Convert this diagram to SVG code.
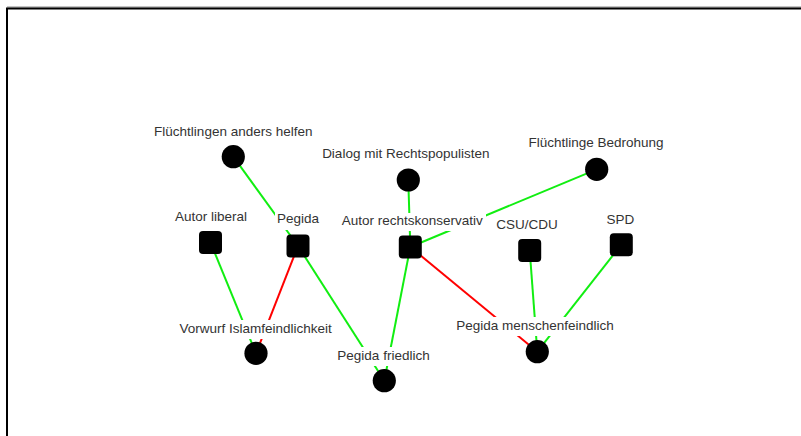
<svg xmlns="http://www.w3.org/2000/svg" width="801" height="436" viewBox="0 0 801 436">
<style>
.e{stroke-width:2;fill:none}
.g{stroke:#11ee11}
.r{stroke:#ff0000}
.lb{fill:#ffffff}
.t{font-family:"Liberation Sans",Arial,sans-serif;font-size:13.5px;fill:#333333;text-anchor:middle}
.n{fill:#000000}
</style>
<rect x="0" y="0" width="801" height="436" fill="#ffffff"/>
<g id="frame">
<line x1="7" y1="7" x2="801" y2="7" stroke="#888888" stroke-width="1"/>
<line x1="6" y1="8.5" x2="801" y2="8.5" stroke="#000000" stroke-width="2"/>
<line x1="7" y1="8" x2="7" y2="436" stroke="#000000" stroke-width="2"/>
</g>
<g id="connectors">
<line class="e g" x1="233.3" y1="156.7" x2="298" y2="246"/>
<line class="e g" x1="210.5" y1="242.5" x2="256" y2="353.3"/>
<line class="e r" x1="298" y1="246" x2="256" y2="353.3"/>
<line class="e g" x1="298" y1="246" x2="384.3" y2="380.7"/>
<line class="e g" x1="408.3" y1="180" x2="410.3" y2="247"/>
<line class="e g" x1="596.7" y1="169.3" x2="410.3" y2="247"/>
<line class="e g" x1="410.3" y1="247" x2="384.3" y2="380.7"/>
<line class="e r" x1="410.3" y1="247" x2="537.3" y2="351.7"/>
<line class="e g" x1="529.7" y1="250.5" x2="537.3" y2="351.7"/>
<line class="e g" x1="621.3" y1="244.7" x2="537.3" y2="351.7"/>
</g>
<g id="n-fluechtlingen-anders-helfen">
<rect class="lb" x="151" y="124" width="165" height="18"/>
<text class="t" x="233.3" y="136">Flüchtlingen anders helfen</text>
<circle class="n" cx="233.3" cy="156.7" r="11.6"/>
</g>
<g id="n-dialog">
<rect class="lb" x="321" y="146" width="170" height="18"/>
<text class="t" x="405.8" y="158.3">Dialog mit Rechtspopulisten</text>
<circle class="n" cx="408.3" cy="180" r="11.6"/>
</g>
<g id="n-fluechtlinge-bedrohung">
<rect class="lb" x="526" y="135" width="140" height="18"/>
<text class="t" x="596" y="147.3">Flüchtlinge Bedrohung</text>
<circle class="n" cx="596.7" cy="169.3" r="11.6"/>
</g>
<g id="n-autor-liberal">
<rect class="lb" x="173" y="209" width="77" height="18"/>
<text class="t" x="211" y="221">Autor liberal</text>
<rect class="n" x="199" y="231" width="23" height="23" rx="4"/>
</g>
<g id="n-pegida">
<rect class="lb" x="275" y="211" width="46" height="19"/>
<text class="t" x="298" y="222.7">Pegida</text>
<rect class="n" x="286.5" y="234.5" width="23" height="23" rx="4"/>
</g>
<g id="n-autor-rechtskonservativ">
<rect class="lb" x="338" y="213" width="148" height="18"/>
<text class="t" x="412.3" y="225">Autor rechtskonservativ</text>
<rect class="n" x="398.8" y="235.5" width="23" height="23" rx="4"/>
</g>
<g id="n-csu-cdu">
<rect class="lb" x="496" y="217" width="62" height="18"/>
<text class="t" x="527" y="229">CSU/CDU</text>
<rect class="n" x="518.2" y="239" width="23" height="23" rx="4"/>
</g>
<g id="n-spd">
<rect class="lb" x="605" y="212" width="31" height="18"/>
<text class="t" x="620.5" y="224.3">SPD</text>
<rect class="n" x="609.8" y="233.2" width="23" height="23" rx="4"/>
</g>
<g id="n-vorwurf">
<rect class="lb" x="178" y="320" width="155" height="19"/>
<text class="t" x="255.7" y="332.7">Vorwurf Islamfeindlichkeit</text>
<circle class="n" cx="256" cy="353.3" r="11.6"/>
</g>
<g id="n-pegida-friedlich">
<rect class="lb" x="335" y="347" width="97" height="19"/>
<text class="t" x="383.5" y="360">Pegida friedlich</text>
<circle class="n" cx="384.3" cy="380.7" r="11.6"/>
</g>
<g id="n-pegida-menschenfeindlich">
<rect class="lb" x="454" y="317" width="162" height="19"/>
<text class="t" x="535" y="330">Pegida menschenfeindlich</text>
<circle class="n" cx="537.3" cy="351.7" r="11.6"/>
</g>
</svg>
